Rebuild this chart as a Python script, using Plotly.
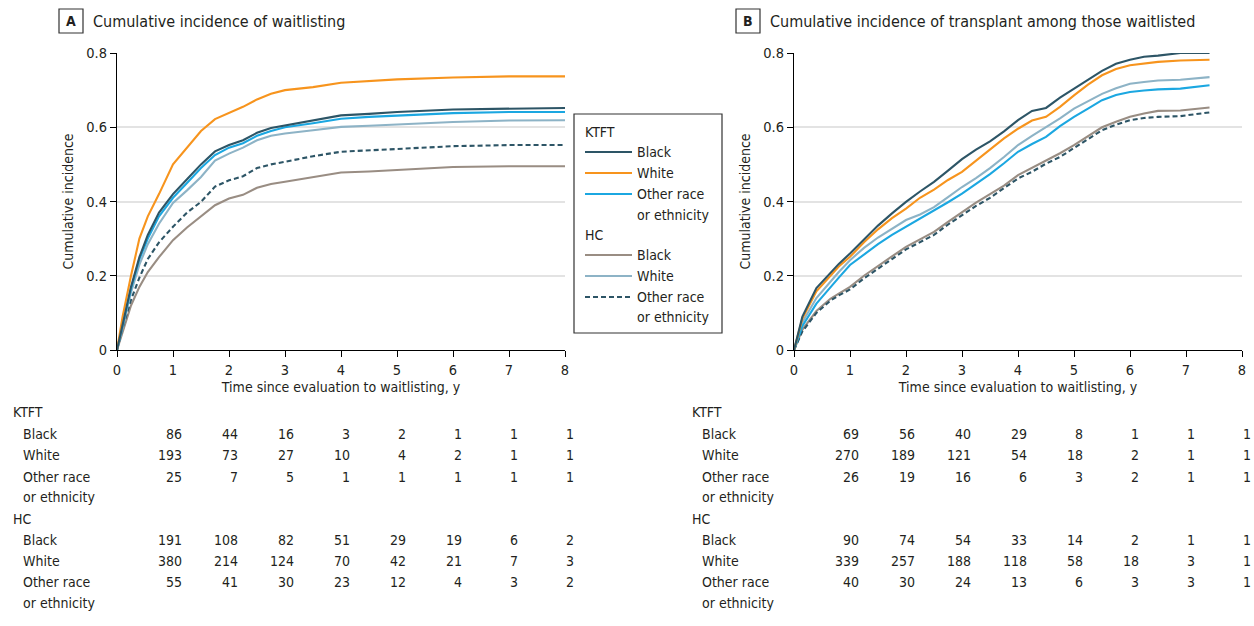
import plotly.graph_objects as go

# ---------------- data ----------------
tA = [0, 0.1, 0.25, 0.4, 0.55, 0.75, 1.0, 1.25, 1.5, 1.75, 2.0, 2.25, 2.5, 2.75, 3.0, 3.5, 4.0, 4.5, 5.0, 6.0, 7.0, 8.0]
A_ktft_black = [0, 0.07, 0.17, 0.25, 0.31, 0.37, 0.42, 0.46, 0.50, 0.535, 0.552, 0.565, 0.585, 0.598, 0.605, 0.618, 0.632, 0.636, 0.641, 0.648, 0.651, 0.652]
A_ktft_white = [0, 0.09, 0.20, 0.30, 0.36, 0.42, 0.50, 0.545, 0.59, 0.622, 0.638, 0.655, 0.675, 0.69, 0.70, 0.708, 0.72, 0.724, 0.729, 0.734, 0.737, 0.737]
A_ktft_other = [0, 0.068, 0.165, 0.245, 0.30, 0.36, 0.41, 0.45, 0.49, 0.525, 0.545, 0.557, 0.577, 0.59, 0.60, 0.611, 0.623, 0.628, 0.632, 0.638, 0.641, 0.641]
A_hc_black = [0, 0.05, 0.12, 0.17, 0.21, 0.25, 0.296, 0.33, 0.359, 0.39, 0.408, 0.418, 0.437, 0.447, 0.453, 0.465, 0.478, 0.481, 0.485, 0.493, 0.495, 0.495]
A_hc_white = [0, 0.065, 0.155, 0.23, 0.285, 0.34, 0.396, 0.43, 0.466, 0.51, 0.529, 0.545, 0.565, 0.577, 0.583, 0.592, 0.601, 0.604, 0.608, 0.614, 0.618, 0.619]
A_hc_other = [0, 0.06, 0.135, 0.195, 0.245, 0.29, 0.332, 0.37, 0.399, 0.44, 0.457, 0.468, 0.49, 0.50, 0.507, 0.522, 0.534, 0.538, 0.543, 0.549, 0.552, 0.552]

tB = [0, 0.15, 0.4, 0.65, 0.8, 1.0, 1.25, 1.5, 1.75, 2.0, 2.25, 2.5, 2.75, 3.0, 3.25, 3.5, 3.75, 4.0,
      4.25, 4.5, 4.75, 5.0, 5.25, 5.5, 5.75, 6.0, 6.25, 6.5, 6.9, 7.42]
B_ktft_black = [0, 0.09, 0.167, 0.208, 0.232, 0.26, 0.298, 0.335, 0.368, 0.399, 0.427, 0.453, 0.483, 0.514, 0.54, 0.562,
                0.589, 0.619, 0.644, 0.652, 0.68, 0.704, 0.73, 0.752, 0.771, 0.782, 0.79, 0.793, 0.80, 0.80]
B_ktft_white = [0, 0.085, 0.158, 0.20, 0.225, 0.251, 0.29, 0.325, 0.355, 0.381, 0.41, 0.432, 0.458, 0.48, 0.51, 0.542,
                0.57, 0.596, 0.618, 0.628, 0.655, 0.686, 0.715, 0.74, 0.757, 0.767, 0.772, 0.776, 0.78, 0.782]
B_ktft_other = [0, 0.065, 0.125, 0.17, 0.195, 0.229, 0.258, 0.285, 0.31, 0.332, 0.352, 0.374, 0.398, 0.421, 0.447, 0.474,
                0.503, 0.534, 0.555, 0.574, 0.603, 0.628, 0.65, 0.673, 0.687, 0.695, 0.699, 0.702, 0.704, 0.713]
B_hc_black = [0, 0.055, 0.105, 0.138, 0.152, 0.17, 0.20, 0.225, 0.252, 0.278, 0.297, 0.318, 0.345, 0.372, 0.397, 0.42,
              0.443, 0.471, 0.49, 0.511, 0.53, 0.552, 0.576, 0.60, 0.615, 0.628, 0.637, 0.644, 0.645, 0.653]
B_hc_white = [0, 0.075, 0.14, 0.185, 0.21, 0.242, 0.275, 0.303, 0.327, 0.35, 0.365, 0.385, 0.412, 0.439, 0.463, 0.49,
              0.52, 0.552, 0.577, 0.60, 0.624, 0.65, 0.67, 0.69, 0.705, 0.717, 0.722, 0.726, 0.728, 0.735]
B_hc_other = [0, 0.05, 0.10, 0.133, 0.147, 0.163, 0.193, 0.218, 0.245, 0.271, 0.29, 0.31, 0.338, 0.363, 0.388, 0.41,
              0.435, 0.462, 0.48, 0.502, 0.52, 0.543, 0.568, 0.592, 0.607, 0.619, 0.625, 0.628, 0.63, 0.64]

group_names = ["KTFT", "HC"]
series_names = ["Black", "White", "Other race", "or ethnicity"]
row_labels = ["Black", "White", "Other race", "or ethnicity"]
risk_times = [1, 2, 3, 4, 5, 6, 7, 8]

A_risk_ktft = [[86, 44, 16, 3, 2, 1, 1, 1], [193, 73, 27, 10, 4, 2, 1, 1], [25, 7, 5, 1, 1, 1, 1, 1]]
A_risk_hc = [[191, 108, 82, 51, 29, 19, 6, 2], [380, 214, 124, 70, 42, 21, 7, 3], [55, 41, 30, 23, 12, 4, 3, 2]]
B_risk_ktft = [[69, 56, 40, 29, 8, 1, 1, 1], [270, 189, 121, 54, 18, 2, 1, 1], [26, 19, 16, 6, 3, 2, 1, 1]]
B_risk_hc = [[90, 74, 54, 33, 14, 2, 1, 1], [339, 257, 188, 118, 58, 18, 3, 1], [40, 30, 24, 13, 6, 3, 3, 1]]

x_ticks = [0, 1, 2, 3, 4, 5, 6, 7, 8]
y_ticks = [0, 0.2, 0.4, 0.6, 0.8]
y_tick_text = ["0", "0.2", "0.4", "0.6", "0.8"]

# ---------------- style ----------------
FONT = "DejaVu Sans Condensed, Liberation Sans Narrow, Roboto, sans-serif"
TXT = "#231f20"
C_DARK = "#2d5566"
C_ORANGE = "#f7941d"
C_LBLUE = "#1ba7e1"
C_BROWN = "#998d83"
C_GBLUE = "#8db3c6"
LW = 2.1
DASH = "5px,3px"

W, H = 1254, 626
def px(x):
    return x / W
def py(y):
    return 1 - y / H

fig = go.Figure()

styles = [
    (C_DARK, "solid"), (C_ORANGE, "solid"), (C_LBLUE, "solid"),
    (C_BROWN, "solid"), (C_GBLUE, "solid"), (C_DARK, DASH),
]
A_series = [A_ktft_black, A_ktft_white, A_ktft_other, A_hc_black, A_hc_white, A_hc_other]
B_series = [B_ktft_black, B_ktft_white, B_ktft_other, B_hc_black, B_hc_white, B_hc_other]

order = [3, 5, 4, 2, 1, 0]
for i in order:
    col, dash = styles[i]
    fig.add_trace(go.Scatter(x=tA, y=A_series[i], mode="lines", xaxis="x", yaxis="y",
                             line=dict(color=col, width=LW, dash=dash), showlegend=False,
                             hoverinfo="skip"))
    fig.add_trace(go.Scatter(x=tB, y=B_series[i], mode="lines", xaxis="x2", yaxis="y2",
                             line=dict(color=col, width=LW, dash=dash), showlegend=False,
                             hoverinfo="skip"))

axis_common = dict(range=[0, 8], tickvals=x_ticks, ticks="outside", ticklen=6, tickcolor="black",
                   showline=True, linecolor="black", linewidth=1.2, showgrid=False, zeroline=False,
                   automargin=False,
                   tickfont=dict(size=14.5, color=TXT, family=FONT),
                   title=dict(text="Time since evaluation to waitlisting, y", font=dict(size=14, color=TXT, family=FONT), standoff=5))
yaxis_common = dict(range=[0, 0.8], tickvals=y_ticks, ticktext=y_tick_text, ticks="outside", ticklen=6,
                    tickcolor="black", showline=True, linecolor="black", linewidth=1.2,
                    showgrid=True, gridcolor="#e3e3e3", gridwidth=1.5, zeroline=False,
                    automargin=False,
                    tickfont=dict(size=14.5, color=TXT, family=FONT),
                    title=dict(text="Cumulative incidence", font=dict(size=14, color=TXT, family=FONT), standoff=9))

fig.update_layout(
    width=W, height=H,
    margin=dict(l=0, r=0, t=0, b=0, pad=0, autoexpand=False),
    paper_bgcolor="white", plot_bgcolor="white",
    font=dict(family=FONT, size=14, color=TXT),
    showlegend=False,
    xaxis=dict(domain=[px(117), px(565)], anchor="y", **axis_common),
    yaxis=dict(domain=[py(350), py(53)], anchor="x", **yaxis_common),
    xaxis2=dict(domain=[px(794), px(1242)], anchor="y2", **axis_common),
    yaxis2=dict(domain=[py(350), py(53)], anchor="x2", **yaxis_common),
)

ann = []
shapes = []
# panel titles
for bx, tx, letter, title in [(59, 91, "A", "Cumulative incidence of waitlisting"),
                              (736, 768, "B", "Cumulative incidence of transplant among those waitlisted")]:
    shapes.append(dict(type="rect", xref="paper", yref="paper", x0=px(bx), x1=px(bx + 24), y0=py(33), y1=py(9),
                       line=dict(color="#333333", width=1.2)))
    ann.append(dict(x=px(bx + 12), y=py(21), xref="paper", yref="paper", text="<b>%s</b>" % letter,
                    showarrow=False, xanchor="center", yanchor="middle", font=dict(size=14, color=TXT)))
    ann.append(dict(x=px(tx), y=py(21), xref="paper", yref="paper", text=title,
                    showarrow=False, xanchor="left", yanchor="middle", font=dict(size=16, color=TXT)))

# legend (drawn manually)
shapes.append(dict(type="rect", xref="paper", yref="paper", x0=px(574), x1=px(722), y0=py(333), y1=py(114),
                   line=dict(color="#333333", width=1.2), fillcolor="white", layer="above"))
leg_group_y = [132, 235]
leg_item_y = [[152, 173, 194, 215], [255, 276, 297, 317]]
for gi, g in enumerate(group_names):
    ann.append(dict(x=px(583), y=py(leg_group_y[gi]), xref="paper", yref="paper", text=g,
                    showarrow=False, xanchor="left", yanchor="middle", font=dict(size=14, color=TXT)))
    for k in range(4):
        ann.append(dict(x=px(635), y=py(leg_item_y[gi][k]), xref="paper", yref="paper", text=series_names[k],
                        showarrow=False, xanchor="left", yanchor="middle", font=dict(size=14, color=TXT)))
    for k in range(3):
        col, dash = styles[gi * 3 + k]
        shapes.append(dict(type="line", xref="paper", yref="paper", x0=px(585), x1=px(632),
                           y0=py(leg_item_y[gi][k]), y1=py(leg_item_y[gi][k]),
                           line=dict(color=col, width=LW, dash=dash), layer="above"))

# risk tables
row_y = [412, 434, 455, 477, 497, 519, 540, 561, 582, 603]
for xref, lx, tbl_k, tbl_h in [("x", 11, A_risk_ktft, A_risk_hc), ("x2", 690, B_risk_ktft, B_risk_hc)]:
    for gi, (gname, tbl) in enumerate([(group_names[0], tbl_k), (group_names[1], tbl_h)]):
        base = gi * 5
        ann.append(dict(x=px(lx), y=py(row_y[base]), xref="paper", yref="paper", text=gname,
                        showarrow=False, xanchor="left", yanchor="middle", font=dict(size=14, color=TXT)))
        for ri, lab in enumerate(row_labels):
            ann.append(dict(x=px(lx + 10), y=py(row_y[base + 1 + ri]), xref="paper", yref="paper", text=lab,
                            showarrow=False, xanchor="left", yanchor="middle", font=dict(size=14, color=TXT)))
        for ri, vals in enumerate(tbl):
            for t, v in zip(risk_times, vals):
                ann.append(dict(x=t, y=py(row_y[base + 1 + ri]), xref=xref, yref="paper", text=str(v),
                                showarrow=False, xanchor="right", yanchor="middle", xshift=11,
                                font=dict(size=14, color=TXT)))

fig.update_layout(annotations=ann, shapes=shapes)
fig.write_html("out.html", config={"displayModeBar": False},
               post_script="document.body.style.margin='0';document.body.style.padding='0';document.body.style.overflow='hidden';")
